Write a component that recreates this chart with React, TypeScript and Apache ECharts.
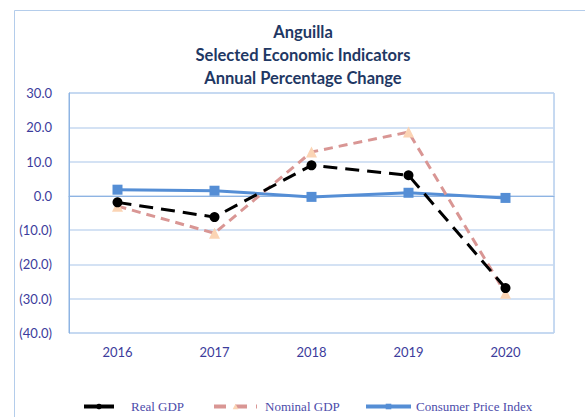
import React, { useEffect, useRef } from "react";
import * as echarts from "echarts";

const categories = ["2016", "2017", "2018", "2019", "2020"];
const realGDP = [-1.9, -6.2, 8.9, 6.0, -26.9];
const nominalGDP = [-3.0, -10.9, 12.8, 18.6, -28.4];
const cpi = [1.8, 1.5, -0.3, 0.9, -0.6];
const titleLines = ["Anguilla", "Selected Economic Indicators", "Annual Percentage Change"];

export default function App() {
  const ref = useRef<HTMLDivElement>(null);
  useEffect(() => {
    document.body.style.margin = "0";
    const chart = echarts.init(ref.current!, null, { renderer: "svg" });
    const labelColor = "#3C3C9C";
    const legendText = { fontFamily: "Liberation Serif", fontSize: 13, color: "#4B4BAA" };
    chart.setOption({
      animation: false,
      backgroundColor: "#ffffff",
      graphic: [
        {
          type: "rect",
          shape: { x: 14.5, y: 10.5, width: 620, height: 500 },
          style: { fill: "none", stroke: "#B4CDEB", lineWidth: 1 },
          silent: true,
          z: -1,
        },
      ],
      title: {
        text: titleLines.join("\n"),
        left: 298,
        textAlign: "center",
        top: 15,
        textStyle: {
          fontFamily: "Lato",
          fontWeight: "bold",
          fontSize: 16.5,
          lineHeight: 23,
          color: "#1F3864",
        },
      },
      grid: {
        left: 69,
        right: 31,
        top: 93,
        bottom: 84,
        show: true,
        borderColor: "#8EB4E3",
        borderWidth: 1,
      },
      legend: [
        {
          left: 80,
          top: 398,
          padding: 2,
          itemWidth: 30,
          itemHeight: 7,
          lineStyle: { type: "solid", width: 4 },
          textStyle: { ...legendText, padding: [0, 0, 0, 12] },
          data: ["Real GDP"],
        },
        {
          left: 210,
          top: 398,
          padding: 2,
          itemWidth: 43,
          itemHeight: 7,
          lineStyle: { type: [12, 9], width: 4 },
          textStyle: { ...legendText, padding: [0, 0, 0, 3] },
          data: ["Nominal GDP"],
        },
        {
          left: 362,
          top: 398,
          padding: 2,
          itemWidth: 45,
          itemHeight: 7,
          lineStyle: { type: "solid", width: 4 },
          textStyle: { ...legendText, padding: [0, 0, 0, 0] },
          data: ["Consumer Price Index"],
        },
      ],
      xAxis: {
        type: "category",
        data: categories,
        boundaryGap: true,
        axisLine: { show: true, lineStyle: { color: "#8EB4E3", width: 1 } },
        axisTick: { show: false },
        axisLabel: { color: labelColor, fontFamily: "Lato", fontSize: 13, margin: 12 },
        splitLine: { show: false },
      },
      yAxis: {
        type: "value",
        min: -40,
        max: 30,
        interval: 10,
        axisLine: { show: true, lineStyle: { color: "#8EB4E3", width: 1 } },
        axisTick: { show: false },
        axisLabel: {
          color: labelColor,
          fontFamily: "Lato",
          fontSize: 13,
          margin: 17,
          formatter: (v: number) => (v < 0 ? "(" + Math.abs(v).toFixed(1) + ")" : v.toFixed(1)),
        },
        splitLine: { show: true, lineStyle: { color: "#C6D9F1", width: 1.5 } },
      },
      series: [
        {
          name: "Real GDP",
          type: "line",
          data: realGDP,
          symbol: "circle",
          symbolSize: 10,
          itemStyle: { color: "#000000" },
          lineStyle: { color: "#000000", width: 3, type: [14, 8] },
          z: 4,
        },
        {
          name: "Nominal GDP",
          type: "line",
          data: nominalGDP,
          symbol: "triangle",
          symbolSize: 11,
          itemStyle: { color: "#FBD4B4" },
          lineStyle: { color: "#D99694", width: 3, type: [9, 6] },
          z: 3,
        },
        {
          name: "Consumer Price Index",
          type: "line",
          data: cpi,
          symbol: "rect",
          symbolSize: 10,
          itemStyle: { color: "#558ED5" },
          lineStyle: { color: "#558ED5", width: 3 },
          z: 2,
        },
      ],
    });
    return () => chart.dispose();
  }, []);
  return <div ref={ref} style={{ width: 585, height: 417 }} />;
}
